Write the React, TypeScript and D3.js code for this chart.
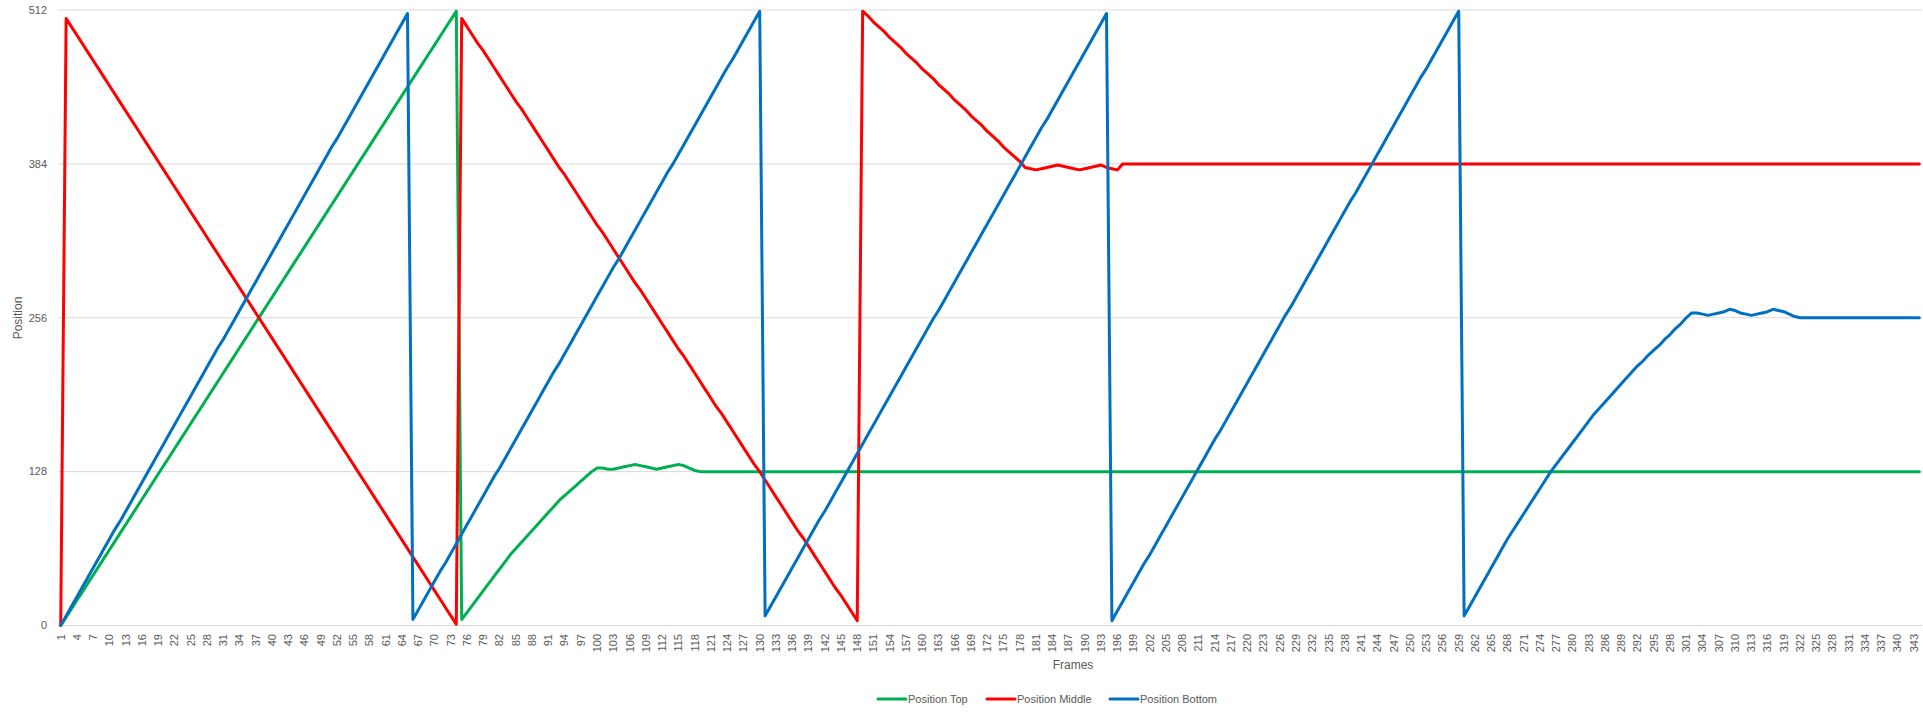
import React from 'react';
import * as d3 from 'd3';

const WIDTH = 1923;
const HEIGHT = 714;

// x categories: frame numbers 1..344
const frames = d3.range(1, 345);
const yTicks = [0, 128, 256, 384, 512];

const positionTop = [
  0, 7, 14, 21, 28, 35, 42, 49, 56, 63,
  70, 77, 84, 91, 98, 105, 112, 119, 126, 133,
  140, 147, 154, 161, 168, 175, 182, 189, 196, 203,
  210, 217, 224, 231, 238, 245, 252, 259, 266, 273,
  280, 287, 294, 301, 308, 315, 322, 329, 336, 343,
  350, 357, 364, 371, 378, 385, 392, 399, 406, 413,
  420, 427, 434, 441, 448, 455, 462, 469, 476, 483,
  490, 497, 504, 511,
  5, 11, 17, 23, 29, 35, 41, 47, 53, 59,
  64, 69, 74, 79, 84, 89, 94, 99, 104, 108,
  112, 116, 120, 124, 128, 131,
  131, 130, 130, 131, 132, 133, 134, 133, 132, 131,
  130, 131, 132, 133, 134, 133, 131, 129,
  128, 128, 128, 128, 128, 128, 128, 128, 128, 128, 128, 128, 128, 128, 128, 128, 128, 128, 128, 128,
  128, 128, 128, 128, 128, 128, 128, 128, 128, 128, 128, 128, 128, 128, 128, 128, 128, 128, 128, 128,
  128, 128, 128, 128, 128, 128, 128, 128, 128, 128, 128, 128, 128, 128, 128, 128, 128, 128, 128, 128,
  128, 128, 128, 128, 128, 128, 128, 128, 128, 128, 128, 128, 128, 128, 128, 128, 128, 128, 128, 128,
  128, 128, 128, 128, 128, 128, 128, 128, 128, 128, 128, 128, 128, 128, 128, 128, 128, 128, 128, 128,
  128, 128, 128, 128, 128, 128, 128, 128, 128, 128, 128, 128, 128, 128, 128, 128, 128, 128, 128, 128,
  128, 128, 128, 128, 128, 128, 128, 128, 128, 128, 128, 128, 128, 128, 128, 128, 128, 128, 128, 128,
  128, 128, 128, 128, 128, 128, 128, 128, 128, 128, 128, 128, 128, 128, 128, 128, 128, 128, 128, 128,
  128, 128, 128, 128, 128, 128, 128, 128, 128, 128, 128, 128, 128, 128, 128, 128, 128, 128, 128, 128,
  128, 128, 128, 128, 128, 128, 128, 128, 128, 128, 128, 128, 128, 128, 128, 128, 128, 128, 128, 128,
  128, 128, 128, 128, 128, 128, 128, 128, 128, 128, 128, 128, 128, 128, 128, 128, 128, 128, 128, 128,
  128, 128, 128, 128, 128, 128,
];

const positionMiddle = [
  0,
  505, 498, 491, 484, 477, 470, 463, 456, 449, 442,
  435, 428, 421, 414, 407, 400, 393, 386, 379, 372,
  365, 358, 351, 344, 337, 330, 323, 316, 309, 302,
  295, 288, 281, 274, 267, 260, 253, 246, 239, 232,
  225, 218, 211, 204, 197, 190, 183, 176, 169, 162,
  155, 148, 141, 134, 127, 120, 113, 106, 99, 92,
  85, 78, 71, 64, 57, 50, 43, 36, 29, 22,
  15, 8, 1,
  505, 498, 491, 484, 478, 471, 464, 457, 450, 443,
  436, 430, 423, 416, 409, 402, 395, 388, 381, 375,
  368, 361, 354, 347, 340, 333, 327, 320, 313, 306,
  299, 292, 285, 279, 272, 265, 258, 251, 244, 237,
  230, 224, 217, 210, 203, 196, 189, 182, 176, 169,
  162, 155, 148, 141, 134, 128, 121, 114, 107, 100,
  93, 86, 79, 73, 66, 59, 52, 45, 38, 31,
  25, 18, 11, 4,
  511, 507, 502, 498, 494, 489, 485, 481, 476, 472,
  468, 463, 459, 455, 450, 446, 442, 437, 433, 429,
  424, 420, 416, 411, 407, 403, 398, 394, 390, 386,
  381,
  380, 379, 380, 381, 382, 383, 382, 381, 380, 379,
  380, 381, 382, 383, 381, 380, 379,
  384, 384, 384, 384, 384, 384, 384, 384, 384, 384, 384, 384, 384, 384, 384, 384, 384, 384, 384, 384,
  384, 384, 384, 384, 384, 384, 384, 384, 384, 384, 384, 384, 384, 384, 384, 384, 384, 384, 384, 384,
  384, 384, 384, 384, 384, 384, 384, 384, 384, 384, 384, 384, 384, 384, 384, 384, 384, 384, 384, 384,
  384, 384, 384, 384, 384, 384, 384, 384, 384, 384, 384, 384, 384, 384, 384, 384, 384, 384, 384, 384,
  384, 384, 384, 384, 384, 384, 384, 384, 384, 384, 384, 384, 384, 384, 384, 384, 384, 384, 384, 384,
  384, 384, 384, 384, 384, 384, 384, 384, 384, 384, 384, 384, 384, 384, 384, 384, 384, 384, 384, 384,
  384, 384, 384, 384, 384, 384, 384, 384, 384, 384, 384, 384, 384, 384, 384, 384, 384, 384, 384, 384,
  384, 384, 384, 384, 384, 384, 384, 384,
];

const positionBottom = [
  0, 8, 16, 24, 32, 40, 48, 56, 64, 72,
  80, 87, 95, 103, 111, 119, 127, 135, 143, 151,
  159, 167, 175, 183, 191, 199, 207, 215, 223, 231,
  238, 246, 254, 262, 270, 278, 286, 294, 302, 310,
  318, 326, 334, 342, 350, 358, 366, 374, 382, 390,
  398, 405, 413, 421, 429, 437, 445, 453, 461, 469,
  477, 485, 493, 501, 509,
  5, 13, 21, 29, 37, 45, 52, 60, 68, 76,
  84, 92, 100, 108, 116, 124, 131, 139, 147, 155,
  163, 171, 179, 187, 195, 203, 211, 218, 226, 234,
  242, 250, 258, 266, 274, 282, 290, 298, 305, 313,
  321, 329, 337, 345, 353, 361, 369, 377, 384, 392,
  400, 408, 416, 424, 432, 440, 448, 456, 464, 471,
  479, 487, 495, 503, 511,
  8, 16, 24, 32, 40, 48, 56, 64, 72, 80,
  88, 95, 103, 111, 119, 127, 135, 143, 151, 159,
  167, 175, 183, 191, 199, 207, 215, 223, 231, 239,
  247, 255, 262, 270, 278, 286, 294, 302, 310, 318,
  326, 334, 342, 350, 358, 366, 374, 382, 390, 398,
  406, 414, 421, 429, 437, 445, 453, 461, 469, 477,
  485, 493, 501, 509,
  4, 12, 20, 28, 36, 44, 52, 59, 67, 75,
  83, 91, 99, 107, 115, 123, 131, 139, 147, 155,
  162, 170, 178, 186, 194, 202, 210, 218, 226, 234,
  242, 250, 258, 265, 273, 281, 289, 297, 305, 313,
  321, 329, 337, 345, 353, 360, 368, 376, 384, 392,
  400, 408, 416, 424, 432, 440, 448, 456, 463, 471,
  479, 487, 495, 503, 511,
  8, 16, 24, 32, 40, 48, 56, 64, 72, 79,
  86, 93, 100, 107, 114, 121, 128, 134, 140, 146,
  152, 158, 164, 170, 176, 181, 186, 191, 196, 201,
  206, 211, 216, 220, 225, 229, 233, 238, 242, 247,
  251, 256, 260,
  260, 259, 258, 259, 260, 261, 263, 262, 260, 259,
  258, 259, 260, 261, 263, 262, 261, 259, 257,
  256, 256, 256, 256, 256, 256, 256, 256, 256, 256, 256, 256, 256, 256, 256, 256, 256, 256, 256, 256,
  256, 256, 256,
];

const series = [
  { name: 'Position Top', color: '#00B050', values: positionTop },
  { name: 'Position Middle', color: '#FF0000', values: positionMiddle },
  { name: 'Position Bottom', color: '#0070C0', values: positionBottom },
];

const FONT = "'Liberation Sans', Arial, sans-serif";
const TEXT = '#595959';
const GRID = '#d9d9d9';

// legend item x positions (line start)
const legendX = [878, 987, 1110];

export default function App() {
  const x = d3.scalePoint<number>().domain(frames).range([58, 1922]).padding(0.5);
  const y = d3.scaleLinear().domain([0, 512]).range([625.5, 10]);

  const line = d3.line<number>()
    .x((_, i) => x(frames[i]) as number)
    .y(d => y(d));

  const tickFrames = frames.filter(f => (f - 1) % 3 === 0);

  return (
    <svg
      width={WIDTH}
      height={HEIGHT}
      style={{ position: 'absolute', left: 0, top: 0, background: '#fff' }}
      fontFamily={FONT}
    >
      {/* gridlines */}
      {yTicks.map(t => (
        <line key={t} x1={58} x2={1922} y1={y(t)} y2={y(t)} stroke={GRID} strokeWidth={1} />
      ))}
      {/* y tick labels */}
      {yTicks.map(t => (
        <text key={'yl' + t} x={47} y={y(t)} dy="0.35em" textAnchor="end" fontSize={11} fill={TEXT}>
          {t}
        </text>
      ))}
      {/* x tick labels */}
      {tickFrames.map(f => (
        <text
          key={'xl' + f}
          transform={`translate(${x(f)},634) rotate(-90)`}
          dy="0.35em"
          textAnchor="end"
          fontSize={11}
          fill={TEXT}
        >
          {f}
        </text>
      ))}
      {/* axis titles */}
      <text transform="translate(18,318) rotate(-90)" dy="0.35em" textAnchor="middle" fontSize={12} fill={TEXT}>
        Position
      </text>
      <text x={1073} y={669} textAnchor="middle" fontSize={12} fill={TEXT}>
        Frames
      </text>
      {/* series */}
      {series.map(s => (
        <path
          key={s.name}
          d={line(s.values) ?? ''}
          fill="none"
          stroke={s.color}
          strokeWidth={3}
          strokeLinejoin="round"
          strokeLinecap="round"
        />
      ))}
      {/* legend */}
      {series.map((s, i) => (
        <g key={'lg' + s.name} transform={`translate(${legendX[i]},699)`}>
          <line x1={0} x2={28} y1={0} y2={0} stroke={s.color} strokeWidth={3} strokeLinecap="round" />
          <text x={30} y={4} fontSize={11} fill={TEXT}>
            {s.name}
          </text>
        </g>
      ))}
    </svg>
  );
}
